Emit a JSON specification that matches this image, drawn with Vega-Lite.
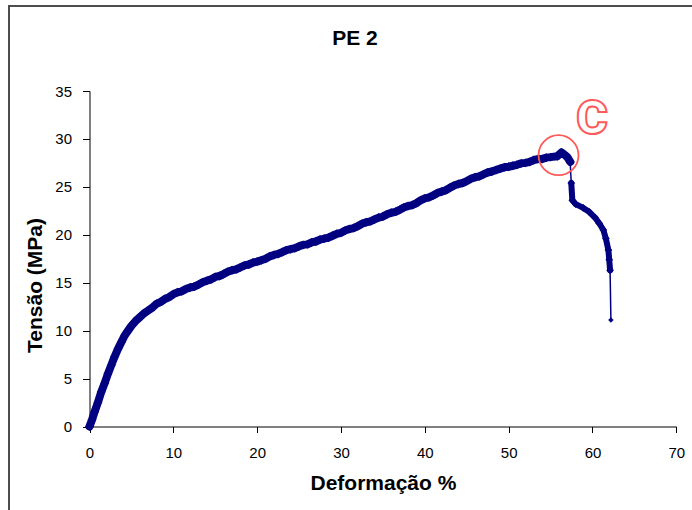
{
  "$schema": "https://vega.github.io/schema/vega-lite/v6.json",
  "width": 700,
  "height": 520,
  "autosize": {"type": "none"},
  "padding": {"left": 9, "top": 6, "right": 0, "bottom": 0},
  "background": "white",
  "config": {
    "view": {"stroke": "#4d4d4d", "strokeWidth": 2},
    "font": "Liberation Sans"
  },
  "title": {
    "text": "PE 2",
    "font": "Liberation Sans",
    "fontSize": 21,
    "fontWeight": "bold",
    "color": "black",
    "anchor": "middle",
    "frame": "group",
    "offset": -43,
    "dx": -4
  },
  "datasets": {
    "ensaio": [
      {"deformacao": 0.0, "tensao": 0.0},
      {"deformacao": 0.3, "tensao": 0.7},
      {"deformacao": 0.6, "tensao": 1.5},
      {"deformacao": 1.0, "tensao": 2.5},
      {"deformacao": 1.4, "tensao": 3.6},
      {"deformacao": 1.8, "tensao": 4.5},
      {"deformacao": 2.2, "tensao": 5.5},
      {"deformacao": 2.6, "tensao": 6.4},
      {"deformacao": 3.0, "tensao": 7.3},
      {"deformacao": 3.4, "tensao": 8.1},
      {"deformacao": 3.8, "tensao": 8.8},
      {"deformacao": 4.2, "tensao": 9.5},
      {"deformacao": 4.6, "tensao": 10.0},
      {"deformacao": 5.0, "tensao": 10.5},
      {"deformacao": 5.5, "tensao": 11.0},
      {"deformacao": 6.0, "tensao": 11.4},
      {"deformacao": 6.5, "tensao": 11.8},
      {"deformacao": 7.0, "tensao": 12.1},
      {"deformacao": 7.5, "tensao": 12.4},
      {"deformacao": 8.0, "tensao": 12.8},
      {"deformacao": 8.5, "tensao": 13.0},
      {"deformacao": 9.0, "tensao": 13.3},
      {"deformacao": 9.5, "tensao": 13.5},
      {"deformacao": 10, "tensao": 13.8},
      {"deformacao": 10.5, "tensao": 14.0},
      {"deformacao": 11, "tensao": 14.1},
      {"deformacao": 11.5, "tensao": 14.35},
      {"deformacao": 12, "tensao": 14.5},
      {"deformacao": 12.5, "tensao": 14.6},
      {"deformacao": 13, "tensao": 14.8},
      {"deformacao": 13.5, "tensao": 15.05},
      {"deformacao": 14, "tensao": 15.2},
      {"deformacao": 14.5, "tensao": 15.35},
      {"deformacao": 15, "tensao": 15.6},
      {"deformacao": 15.5, "tensao": 15.7},
      {"deformacao": 16, "tensao": 15.9},
      {"deformacao": 16.5, "tensao": 16.15},
      {"deformacao": 17, "tensao": 16.3},
      {"deformacao": 17.5, "tensao": 16.4},
      {"deformacao": 18, "tensao": 16.6},
      {"deformacao": 18.5, "tensao": 16.8},
      {"deformacao": 19, "tensao": 16.9},
      {"deformacao": 19.5, "tensao": 17.1},
      {"deformacao": 20, "tensao": 17.2},
      {"deformacao": 20.5, "tensao": 17.35},
      {"deformacao": 21, "tensao": 17.5},
      {"deformacao": 21.5, "tensao": 17.75},
      {"deformacao": 22, "tensao": 17.9},
      {"deformacao": 22.5, "tensao": 18.0},
      {"deformacao": 23, "tensao": 18.2},
      {"deformacao": 23.5, "tensao": 18.4},
      {"deformacao": 24, "tensao": 18.5},
      {"deformacao": 24.5, "tensao": 18.6},
      {"deformacao": 25, "tensao": 18.8},
      {"deformacao": 25.5, "tensao": 18.95},
      {"deformacao": 26, "tensao": 19.0},
      {"deformacao": 26.5, "tensao": 19.2},
      {"deformacao": 27, "tensao": 19.3},
      {"deformacao": 27.5, "tensao": 19.5},
      {"deformacao": 28, "tensao": 19.6},
      {"deformacao": 28.5, "tensao": 19.7},
      {"deformacao": 29, "tensao": 19.9},
      {"deformacao": 29.5, "tensao": 20.1},
      {"deformacao": 30, "tensao": 20.2},
      {"deformacao": 30.5, "tensao": 20.45},
      {"deformacao": 31, "tensao": 20.6},
      {"deformacao": 31.5, "tensao": 20.7},
      {"deformacao": 32, "tensao": 20.9},
      {"deformacao": 32.5, "tensao": 21.15},
      {"deformacao": 33, "tensao": 21.3},
      {"deformacao": 33.5, "tensao": 21.4},
      {"deformacao": 34, "tensao": 21.6},
      {"deformacao": 34.5, "tensao": 21.8},
      {"deformacao": 35, "tensao": 21.9},
      {"deformacao": 35.5, "tensao": 22.15},
      {"deformacao": 36, "tensao": 22.3},
      {"deformacao": 36.5, "tensao": 22.4},
      {"deformacao": 37, "tensao": 22.6},
      {"deformacao": 37.5, "tensao": 22.85},
      {"deformacao": 38, "tensao": 23.0},
      {"deformacao": 38.5, "tensao": 23.1},
      {"deformacao": 39, "tensao": 23.3},
      {"deformacao": 39.5, "tensao": 23.6},
      {"deformacao": 40, "tensao": 23.8},
      {"deformacao": 40.5, "tensao": 23.9},
      {"deformacao": 41, "tensao": 24.1},
      {"deformacao": 41.5, "tensao": 24.35},
      {"deformacao": 42, "tensao": 24.5},
      {"deformacao": 42.5, "tensao": 24.65},
      {"deformacao": 43, "tensao": 24.9},
      {"deformacao": 43.5, "tensao": 25.15},
      {"deformacao": 44, "tensao": 25.3},
      {"deformacao": 44.5, "tensao": 25.4},
      {"deformacao": 45, "tensao": 25.6},
      {"deformacao": 45.5, "tensao": 25.85},
      {"deformacao": 46, "tensao": 26.0},
      {"deformacao": 46.5, "tensao": 26.1},
      {"deformacao": 47, "tensao": 26.3},
      {"deformacao": 47.5, "tensao": 26.5},
      {"deformacao": 48, "tensao": 26.6},
      {"deformacao": 48.5, "tensao": 26.75},
      {"deformacao": 49, "tensao": 26.9},
      {"deformacao": 49.5, "tensao": 27.05},
      {"deformacao": 50, "tensao": 27.1},
      {"deformacao": 50.5, "tensao": 27.2},
      {"deformacao": 51, "tensao": 27.3},
      {"deformacao": 51.5, "tensao": 27.45},
      {"deformacao": 52, "tensao": 27.5},
      {"deformacao": 52.5, "tensao": 27.6},
      {"deformacao": 53, "tensao": 27.8},
      {"deformacao": 53.5, "tensao": 27.9},
      {"deformacao": 54, "tensao": 27.9},
      {"deformacao": 54.5, "tensao": 28.05},
      {"deformacao": 55, "tensao": 28.1},
      {"deformacao": 55.8, "tensao": 28.2},
      {"deformacao": 56.3, "tensao": 28.6},
      {"deformacao": 56.6, "tensao": 28.4},
      {"deformacao": 57.0, "tensao": 28.1},
      {"deformacao": 57.35, "tensao": 27.6},
      {"deformacao": 57.4, "tensao": 26.5},
      {"deformacao": 57.47, "tensao": 25.4},
      {"deformacao": 57.6, "tensao": 23.6},
      {"deformacao": 58.0, "tensao": 23.2},
      {"deformacao": 58.9, "tensao": 22.8},
      {"deformacao": 59.6, "tensao": 22.4},
      {"deformacao": 60.3, "tensao": 21.8},
      {"deformacao": 60.8, "tensao": 21.2},
      {"deformacao": 61.3, "tensao": 20.5},
      {"deformacao": 61.6, "tensao": 19.6},
      {"deformacao": 61.9, "tensao": 18.4},
      {"deformacao": 62.0, "tensao": 17.4},
      {"deformacao": 62.1, "tensao": 16.3},
      {"deformacao": 62.2, "tensao": 11.1}
    ],
    "destaque": [
      {"deformacao": 55.95, "tensao": 28.3, "rotulo": "C", "rotulo_x": 59.93, "rotulo_y": 32.0}
    ]
  },
  "encoding": {
    "x": {
      "field": "deformacao",
      "type": "quantitative",
      "scale": {"domain": [0, 70], "range": [80.5, 667.3], "nice": false, "zero": false},
      "axis": {
        "title": "Deformação %",
        "values": [0, 10, 20, 30, 40, 50, 60, 70],
        "offset": -99.5,
        "grid": false,
        "domainColor": "black",
        "domainWidth": 1,
        "tickColor": "black",
        "tickSize": 6,
        "labelFont": "Liberation Sans",
        "labelFontSize": 15,
        "labelColor": "black",
        "labelPadding": 13,
        "labelFlush": false,
        "titleFont": "Liberation Sans",
        "titleFontSize": 21,
        "titleFontWeight": "bold",
        "titleColor": "black",
        "titleBaseline": "middle",
        "titleY": 57
      }
    },
    "y": {
      "field": "tensao",
      "type": "quantitative",
      "scale": {"domain": [0, 35], "range": [420.5, 85], "nice": false, "zero": false},
      "axis": {
        "title": "Tensão (MPa)",
        "values": [0, 5, 10, 15, 20, 25, 30, 35],
        "offset": -80.5,
        "grid": false,
        "domainColor": "black",
        "domainWidth": 1,
        "tickColor": "black",
        "tickSize": 7,
        "labelFont": "Liberation Sans",
        "labelFontSize": 15,
        "labelColor": "black",
        "labelPadding": 11,
        "labelFlush": false,
        "titleFont": "Liberation Sans",
        "titleFontSize": 21,
        "titleFontWeight": "bold",
        "titleColor": "black",
        "titleAngle": -90,
        "titleAlign": "center",
        "titleBaseline": "middle",
        "titleX": -54.5,
        "titleY": 279
      }
    }
  },
  "layer": [
    {
      "data": {"name": "ensaio"},
      "mark": {"type": "line", "color": "#000080", "strokeWidth": 1.5}
    },
    {
      "data": {"name": "ensaio"},
      "transform": [{"filter": "datum.deformacao <= 57.35"}],
      "mark": {"type": "line", "color": "#000080", "strokeWidth": 8, "strokeJoin": "round", "strokeCap": "round"}
    },
    {
      "data": {"name": "ensaio"},
      "transform": [{"filter": "datum.deformacao <= 57.35"}],
      "mark": {"type": "point", "shape": "diamond", "filled": true, "color": "#000080", "size": 80, "opacity": 1}
    },
    {
      "data": {"name": "ensaio"},
      "transform": [{"filter": "datum.deformacao >= 57.47 && datum.tensao >= 16.3"}],
      "mark": {"type": "line", "color": "#000080", "strokeWidth": 6, "strokeJoin": "round", "strokeCap": "round"}
    },
    {
      "data": {"name": "ensaio"},
      "transform": [{"filter": "datum.deformacao >= 57.47 && datum.tensao >= 16.3"}],
      "mark": {"type": "point", "shape": "diamond", "filled": true, "color": "#000080", "size": 60, "opacity": 1}
    },
    {
      "data": {"name": "ensaio"},
      "transform": [{"filter": "datum.tensao < 12 && datum.deformacao > 60"}],
      "mark": {"type": "point", "shape": "diamond", "filled": true, "color": "#000080", "size": 30, "opacity": 1}
    },
    {
      "data": {"name": "destaque"},
      "mark": {"type": "point", "shape": "circle", "filled": false, "color": "#ff5a5a", "strokeWidth": 1.8, "size": 1600, "opacity": 1}
    },
    {
      "data": {"name": "destaque"},
      "mark": {
        "type": "text",
        "font": "Roboto",
        "fontSize": 48,
        "fontWeight": 900,
        "fill": "white",
        "stroke": "#ff5a5a",
        "strokeWidth": 2,
        "align": "center",
        "baseline": "middle"
      },
      "encoding": {
        "x": {"field": "rotulo_x", "type": "quantitative"},
        "y": {"field": "rotulo_y", "type": "quantitative"},
        "text": {"field": "rotulo"}
      }
    }
  ]
}
